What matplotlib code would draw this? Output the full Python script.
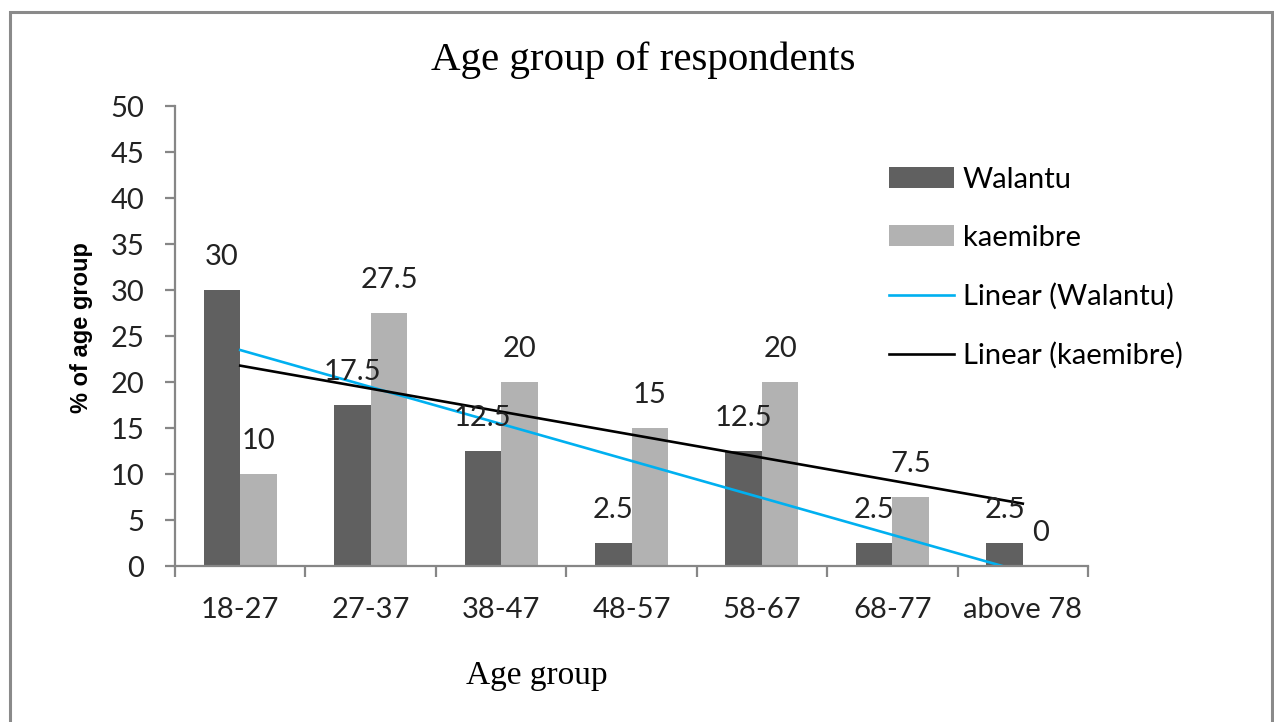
import numpy as np
import matplotlib.pyplot as plt
from matplotlib.patches import Rectangle

# data
groups = ['18-27', '27-37', '38-47', '48-57', '58-67', '68-77', 'above 78']
walantu = [30, 17.5, 12.5, 2.5, 12.5, 2.5, 2.5]
kaemibre = [10, 27.5, 20, 15, 20, 7.5, 0]

dark = '#606060'
light = '#b2b2b2'
axis_col = '#868686'
sans = 'Lato'
serif = 'Liberation Serif'
fs = 21

fig = plt.figure(figsize=(12.74, 7.22), dpi=100)
ax = fig.add_axes([0.1374, 0.216, 0.7166, 0.637])

x = np.arange(len(groups))
w = 0.28
b1 = ax.bar(x - w / 2, walantu, w, color=dark, label='Walantu')
b2 = ax.bar(x + w / 2, kaemibre, w, color=light, label='kaemibre')

# linear trend lines (least squares, like Excel)
cw = np.polyfit(x, walantu, 1)
ck = np.polyfit(x, kaemibre, 1)
l1, = ax.plot(x, np.polyval(cw, x), color='#00b0f0', lw=1.9, label='Linear (Walantu)')
l2, = ax.plot(x, np.polyval(ck, x), color='black', lw=1.9, label='Linear (kaemibre)')

# value labels
for bars in (b1, b2):
    for bar in bars:
        h = bar.get_height()
        ax.annotate(f'{h:g}', (bar.get_x() + bar.get_width() / 2, h),
                    xytext=(0, 24), textcoords='offset points',
                    ha='center', va='center', fontsize=fs, family=sans,
                    color='#222222')

ax.set_xlim(-0.5, len(groups) - 0.5)
ax.set_ylim(0, 50)
ax.set_yticks(range(0, 51, 5))
ax.set_xticks(x)
ax.set_xticklabels(groups)
ax.set_xticks(np.arange(-0.5, len(groups), 1), minor=True)

for s in ('top', 'right'):
    ax.spines[s].set_visible(False)
for s in ('left', 'bottom'):
    ax.spines[s].set_color(axis_col)
    ax.spines[s].set_linewidth(1.6)

ax.tick_params(axis='y', length=7, width=1.6, color=axis_col, pad=15,
               labelsize=fs, labelcolor='#222222')
ax.tick_params(axis='x', which='major', length=0, pad=22,
               labelsize=fs, labelcolor='#222222')
ax.tick_params(axis='x', which='minor', length=8, width=1.6, color=axis_col)
for lab in ax.get_xticklabels() + ax.get_yticklabels():
    lab.set_family(sans)

fig.text(0.505, 0.917, 'Age group of respondents', ha='center', va='center',
         fontsize=29.5, family=serif)
fig.text(0.4215, 0.064, 'Age group', ha='center', va='center',
         fontsize=24, family=serif)
fig.text(0.064, 0.547, '% of age group', ha='center', va='center',
         rotation=90, fontsize=17, fontweight='bold', family='Liberation Sans')

fig.legend([b1, b2, l1, l2],
           ['Walantu', 'kaemibre', 'Linear (Walantu)', 'Linear (kaemibre)'],
           loc='upper left', bbox_to_anchor=(0.698, 0.769), frameon=False,
           borderpad=0, borderaxespad=0, handlelength=2.23, handletextpad=0.3,
           labelspacing=1.1, prop={'family': sans, 'size': fs})

# outer chart border
fig.patches.append(Rectangle((10 / 1274, -0.02), 1262 / 1274, 1.02 - 12 / 722,
                             transform=fig.transFigure, fill=False,
                             edgecolor='#8a8a8a', lw=2.2))

fig.savefig('out.png', dpi=100)
